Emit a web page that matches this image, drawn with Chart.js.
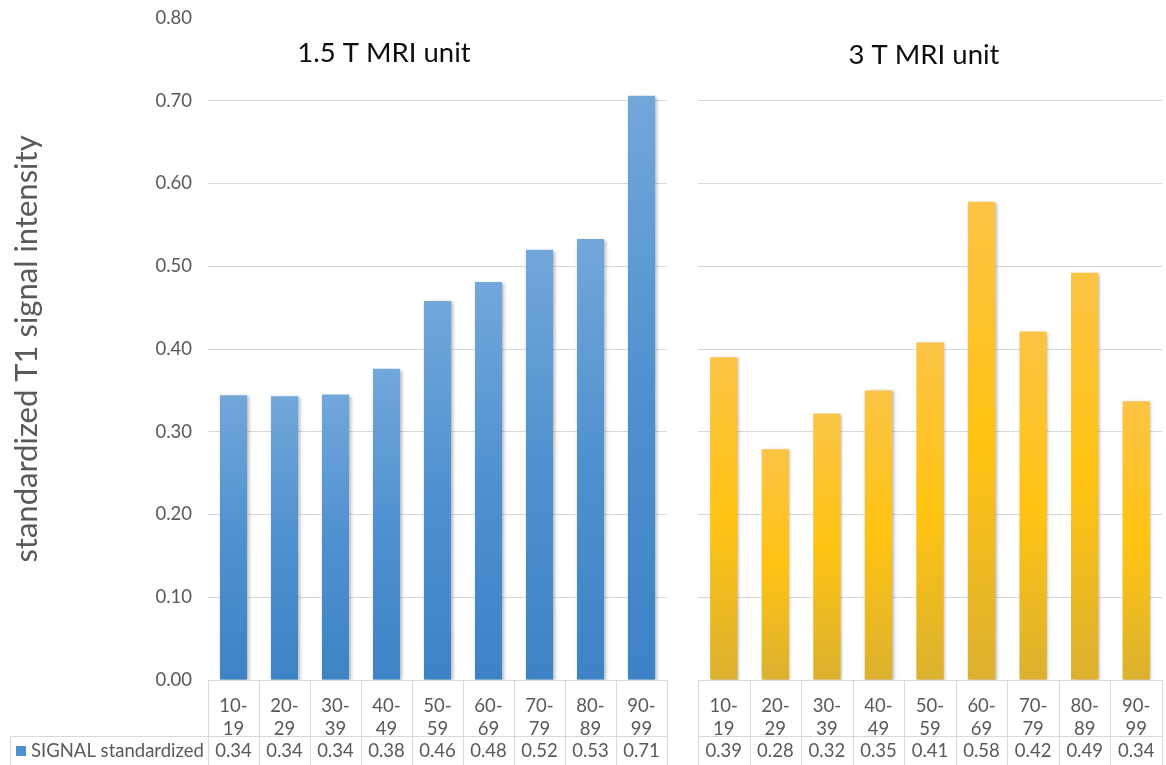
<!DOCTYPE html>
<html>
<head>
<meta charset="utf-8">
<title>Standardized T1 signal intensity by age group</title>
<script src="https://cdn.jsdelivr.net/npm/chart.js@4.4.0/dist/chart.umd.min.js"></script>
<style>
  html, body { margin: 0; padding: 0; background: #fff; }
  #wrap { position: relative; width: 1166px; height: 765px; overflow: hidden; }
  #wrap canvas { position: absolute; top: 0; }
  #c15 { left: 0; }
  #c3 { left: 680px; }
</style>
</head>
<body>
<div id="wrap">
  <canvas id="c15" width="680" height="765"></canvas>
  <canvas id="c3" width="486" height="765"></canvas>
</div>
<script>
(function () {
  'use strict';

  /* ── Data ─────────────────────────────────────────────────────────────── */
  const ageGroups = [['10-', '19'], ['20-', '29'], ['30-', '39'], ['40-', '49'], ['50-', '59'],
                     ['60-', '69'], ['70-', '79'], ['80-', '89'], ['90-', '99']];
  const signal15T = [0.344, 0.343, 0.345, 0.376, 0.458, 0.481, 0.520, 0.533, 0.706];
  const signal3T  = [0.390, 0.279, 0.322, 0.350, 0.408, 0.578, 0.421, 0.492, 0.337];
  const yTicks    = [0.0, 0.1, 0.2, 0.3, 0.4, 0.5, 0.6, 0.7, 0.8];
  const seriesName = 'SIGNAL standardized';
  const yTitle     = 'standardized T1 signal intensity';

  /* ── Look ─────────────────────────────────────────────────────────────── */
  const FONT       = "Lato, 'Open Sans', sans-serif";
  const TEXT_COLOR = '#595959';
  const GRID_COLOR = '#d9d9d9';
  const LABEL_SIZE = 18.5;
  const BLUE_STOPS   = ['#72a7da', '#4f91d0', '#3c83c5'];
  const YELLOW_STOPS = ['#fcc445', '#ffc312', '#dcb12f'];

  // per-bar vertical gradient, like an Office gradient fill
  function barGradient(stops) {
    return function (c) {
      const chart = c.chart;
      const area = chart.chartArea;
      if (!area || c.parsed == null) return stops[1];
      const y = chart.scales.y;
      const top = y.getPixelForValue(c.parsed.y);
      const g = chart.ctx.createLinearGradient(0, top, 0, area.bottom);
      g.addColorStop(0, stops[0]);
      g.addColorStop(0.5, stops[1]);
      g.addColorStop(1, stops[2]);
      return g;
    };
  }

  /* ── Plugins ──────────────────────────────────────────────────────────── */
  const barShadow = {
    id: 'barShadow',
    beforeDatasetsDraw(chart) {
      const ctx = chart.ctx;
      ctx.save();
      ctx.shadowColor = 'rgba(0,0,0,0.28)';
      ctx.shadowBlur = 3;
      ctx.shadowOffsetX = 1.5;
      ctx.shadowOffsetY = 1;
    },
    afterDatasetsDraw(chart) { chart.ctx.restore(); }
  };

  const panelTitle = {
    id: 'panelTitle',
    afterDraw(chart, args, opts) {
      const ctx = chart.ctx;
      ctx.save();
      ctx.font = '27.5px ' + FONT;
      ctx.fillStyle = '#0d0d0d';
      ctx.textAlign = 'center';
      ctx.textBaseline = 'middle';
      ctx.fillText(opts.text, opts.x, opts.y);
      ctx.restore();
    }
  };

  // data table under the axis: category cells, value row, optional legend key
  const dataTable = {
    id: 'dataTable',
    afterDraw(chart, args, opts) {
      const { ctx, chartArea } = chart;
      const x = chart.scales.x;
      const n = chart.data.labels.length;
      const top = chartArea.bottom;
      const mid = top + opts.headerHeight;
      const bottom = mid + opts.rowHeight;
      const left = Math.round(x.getPixelForValue(-0.5)) + 0.5;
      const right = Math.round(x.getPixelForValue(n - 0.5)) + 0.5;

      ctx.save();
      ctx.strokeStyle = GRID_COLOR;
      ctx.lineWidth = 1;
      ctx.beginPath();
      for (let i = 0; i <= n; i++) {
        const px = Math.round(x.getPixelForValue(i - 0.5)) + 0.5;
        ctx.moveTo(px, top);
        ctx.lineTo(px, bottom);
      }
      const keyLeft = opts.legend ? 10.5 : left;
      ctx.moveTo(keyLeft, Math.round(mid) + 0.5);
      ctx.lineTo(right, Math.round(mid) + 0.5);
      ctx.moveTo(keyLeft, Math.round(bottom) + 0.5);
      ctx.lineTo(right, Math.round(bottom) + 0.5);
      if (opts.legend) {
        ctx.moveTo(keyLeft, Math.round(mid) + 0.5);
        ctx.lineTo(keyLeft, bottom);
      }
      ctx.stroke();

      ctx.font = LABEL_SIZE + 'px ' + FONT;
      ctx.fillStyle = TEXT_COLOR;
      ctx.textBaseline = 'middle';
      ctx.textAlign = 'center';
      const cy = (mid + bottom) / 2;
      chart.data.datasets[0].data.forEach((v, i) => {
        ctx.fillText(v.toFixed(2), x.getPixelForValue(i), cy);
      });

      if (opts.legend) {
        ctx.fillStyle = BLUE_STOPS[1];
        ctx.fillRect(16, cy - 5, 10, 10);
        ctx.fillStyle = TEXT_COLOR;
        ctx.textAlign = 'left';
        ctx.fillText(chart.data.datasets[0].label, 31, cy);
      }
      ctx.restore();
    }
  };

  /* ── Chart factory ────────────────────────────────────────────────────── */
  function drawPanel(id, values, stops, opts) {
    const canvas = document.getElementById(id);
    return new Chart(canvas.getContext('2d'), {
      type: 'bar',
      data: {
        labels: ageGroups,
        datasets: [{
          label: seriesName,
          data: values,
          backgroundColor: barGradient(stops),
          borderWidth: 0,
          barPercentage: 0.53,
          categoryPercentage: 1
        }]
      },
      plugins: [barShadow, panelTitle, dataTable],
      options: {
        responsive: false,
        animation: false,
        events: [],
        layout: { padding: opts.padding },
        plugins: {
          legend: { display: false },
          tooltip: { enabled: false },
          panelTitle: opts.title,
          dataTable: { headerHeight: 56, rowHeight: 30, legend: opts.legend }
        },
        scales: {
          x: {
            grid: { display: false },
            border: { display: true, color: GRID_COLOR },
            ticks: {
              color: TEXT_COLOR,
              font: { family: FONT, size: LABEL_SIZE, lineHeight: 1.25 },
              padding: 6,
              maxRotation: 0,
              autoSkip: false
            },
            afterFit(scale) { scale.height = 56; }
          },
          y: {
            min: 0,
            max: 0.8,
            afterBuildTicks(scale) { scale.ticks = yTicks.map(v => ({ value: v })); },
            grid: {
              color: c => (c.tick && c.tick.value >= 0.8 ? 'rgba(0,0,0,0)' : GRID_COLOR),
              drawTicks: opts.showAxis,
              tickLength: 16,
              tickColor: 'rgba(0,0,0,0)'
            },
            border: { display: false },
            ticks: {
              display: opts.showAxis,
              color: TEXT_COLOR,
              font: { family: FONT, size: LABEL_SIZE },
              padding: 0,
              callback: v => v.toFixed(2)
            },
            title: {
              display: opts.showAxis,
              text: yTitle,
              color: TEXT_COLOR,
              font: { family: FONT, size: 31 },
              padding: { top: 8, bottom: 0 }
            },
            afterFit(scale) { scale.width = opts.axisWidth; }
          }
        }
      }
    });
  }

  drawPanel('c15', signal15T, BLUE_STOPS, {
    padding: { left: 0, right: 13, top: 18, bottom: 29 },
    axisWidth: 208,
    showAxis: true,
    legend: true,
    title: { text: '1.5 T MRI unit', x: 384, y: 53 }
  });

  drawPanel('c3', signal3T, YELLOW_STOPS, {
    padding: { left: 18, right: 4, top: 18, bottom: 29 },
    axisWidth: 0,
    showAxis: false,
    legend: false,
    title: { text: '3 T MRI unit', x: 244, y: 55 }
  });
})();
</script>
</body>
</html>
